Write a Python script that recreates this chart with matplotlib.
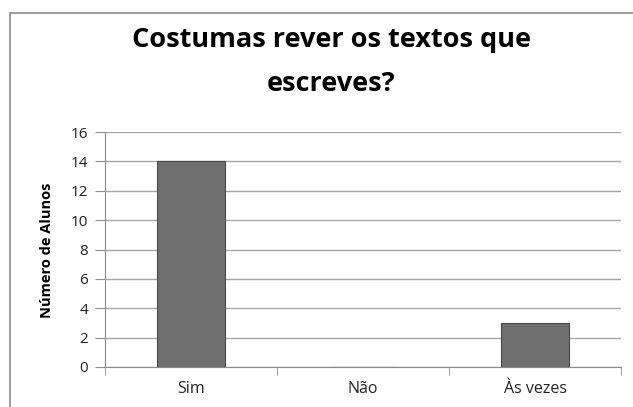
import numpy as np
import matplotlib
matplotlib.use("Agg")
import matplotlib.pyplot as plt
from matplotlib.patches import Rectangle

categories = ["Sim", "Não", "Às vezes"]
values = [14, 0, 3]
yticks = [0, 2, 4, 6, 8, 10, 12, 14, 16]

plt.rcParams['font.family'] = ['Open Sans', 'DejaVu Sans']

W, H = 633, 407
fig = plt.figure(figsize=(W / 100, H / 100), dpi=100)

# outer chart frame (runs off the right and bottom of the picture)
fig.patches.append(Rectangle((10 / W, -0.1), 1.2, 1 - 13 / H + 0.1,
                             transform=fig.transFigure, fill=False,
                             edgecolor='#8c8c8c', linewidth=1.2))

# axes placed in pixels
x0, x1 = 105, 621
ytop, ybot = 132, 367
ax = fig.add_axes([x0 / W, 1 - ybot / H, (x1 - x0) / W, (ybot - ytop) / H])

x = np.arange(len(categories))
ax.bar(x, values, width=0.4, color='#6f6f6f', edgecolor='#4a4a4a',
       linewidth=0.8, zorder=3)

ax.set_xlim(-0.5, len(categories) - 0.5)
ax.set_ylim(0, 16)
ax.set_yticks(yticks)
ax.yaxis.grid(True, color='#a6a6a6', linewidth=1.0, zorder=0)
ax.set_axisbelow(True)

for s in ['top', 'right']:
    ax.spines[s].set_visible(False)
ax.spines['left'].set_color('#8c8c8c')
ax.spines['bottom'].set_color('#8c8c8c')

ax.set_xticks(x)
ax.set_xticklabels(categories, fontsize=11.5, color='#222222')
ax.tick_params(axis='x', length=0, pad=10)
ax.set_xticks(np.arange(-0.5, len(categories)), minor=True)
ax.tick_params(axis='x', which='minor', length=6, color='#8c8c8c')
ax.tick_params(axis='y', length=7, color='#8c8c8c', labelsize=11,
               labelcolor='#222222', pad=5)

fig.text(47 / W, 1 - 250 / H, "Número de Alunos", rotation=90,
         ha='center', va='center', fontsize=10.5, fontweight='bold')

fig.text(331 / W, 1 - 40 / H, "Costumas rever os textos que",
         ha='center', va='center', fontsize=19.5, fontweight='bold')
fig.text(331 / W, 1 - 84 / H, "escreves?",
         ha='center', va='center', fontsize=19.5, fontweight='bold')

fig.savefig("out.png", dpi=100)
